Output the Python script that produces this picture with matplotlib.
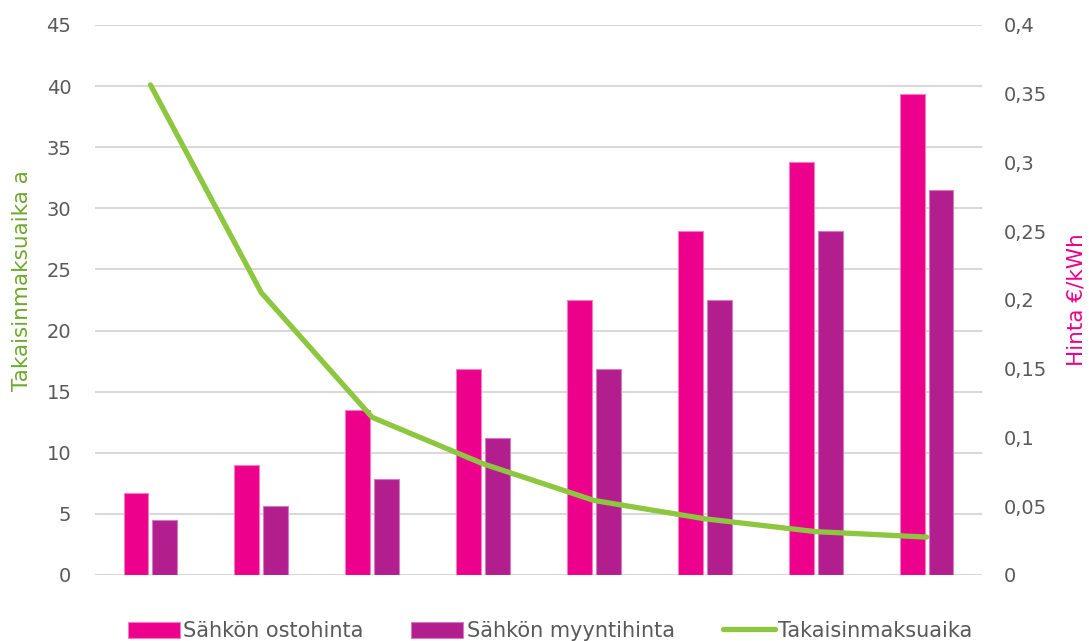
import numpy as np
import matplotlib
matplotlib.use('Agg')
import matplotlib.pyplot as plt

# --- Data ---
categories = ['1', '2', '3', '4', '5', '6', '7', '8']
ostohinta = [0.06, 0.08, 0.12, 0.15, 0.20, 0.25, 0.30, 0.35]
myyntihinta = [0.04, 0.05, 0.07, 0.10, 0.15, 0.20, 0.25, 0.28]
takaisinmaksuaika = [40.1, 23.1, 12.9, 9.1, 6.1, 4.6, 3.55, 3.1]

left_ticks = [0, 5, 10, 15, 20, 25, 30, 35, 40, 45]
right_ticks = [0, 0.05, 0.1, 0.15, 0.2, 0.25, 0.3, 0.35, 0.4]
right_labels = ['0', '0,05', '0,1', '0,15', '0,2', '0,25', '0,3', '0,35', '0,4']

PINK = '#EC008C'
PURPLE = '#B31E8E'
GREEN = '#8DC63F'
GREY = '#595959'
GRID = '#D9D9D9'

plt.rcParams['font.family'] = ['DejaVu Sans']

fig = plt.figure(figsize=(10.89, 6.41), dpi=100)
rect = [95 / 1089, 1 - 575 / 641, (982 - 95) / 1089, 550 / 641]

# bottom layer: left axis with gridlines
ax = fig.add_axes(rect)
ax.set_ylim(0, 45)
ax.set_yticks(left_ticks)
ax.yaxis.grid(True, color=GRID, linewidth=1.5)
ax.set_xlim(-0.5, len(categories) - 0.5)
ax.set_xticks([])

# middle layer: bars on the price axis
ax2 = ax.twinx()
x = np.arange(len(categories))
w = 0.225
b1 = ax2.bar(x - 0.13, ostohinta, w, color=PINK, edgecolor='#F47CC0', linewidth=0.8)
b2 = ax2.bar(x + 0.13, myyntihinta, w, color=PURPLE, edgecolor='#D27CC0', linewidth=0.8)
ax2.set_ylim(0, 0.4)
ax2.set_yticks(right_ticks)
ax2.set_yticklabels(right_labels)

# top layer: payback line sharing the left scale
ax3 = fig.add_axes(rect, sharex=ax, sharey=ax)
ax3.set_zorder(ax2.get_zorder() + 1)
ax3.patch.set_visible(False)
ax3.axis('off')
line, = ax3.plot(x, takaisinmaksuaika, color=GREEN, linewidth=3.8,
                 solid_capstyle='round', solid_joinstyle='round')

for a in (ax, ax2):
    for s in a.spines.values():
        s.set_visible(False)
    a.tick_params(axis='y', length=0, labelsize=14, labelcolor=GREY)
ax.tick_params(axis='y', pad=17)
ax2.tick_params(axis='y', pad=16)

ax.set_ylabel('Takaisinmaksuaika a', color='#6FA82F', fontsize=15.5)
ax.yaxis.set_label_coords(-0.071, 0.535)
ax2.set_ylabel('Hinta €/kWh', color=PINK, fontsize=15.5, labelpad=14)

handles = [b1, b2, line]
labels = ['Sähkön ostohinta', 'Sähkön myyntihinta', 'Takaisinmaksuaika']
fig.legend(handles, labels, loc='center', bbox_to_anchor=(0.505, 1 - 631 / 641),
           ncol=3, frameon=False, fontsize=15, labelcolor=GREY,
           handlelength=2.5, handleheight=0.8, handletextpad=0.15, columnspacing=2.3)

fig.savefig('out.png', dpi=100)
